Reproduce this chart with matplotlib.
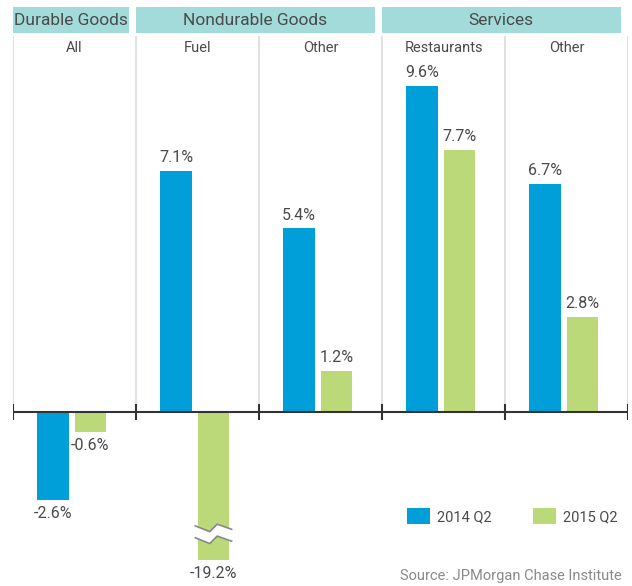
import numpy as np
import matplotlib.pyplot as plt
from matplotlib.patches import Rectangle, Polygon

# Données
groups = ["Durable Goods", "Nondurable Goods", "Services"]
group_span = [(0, 0), (1, 2), (3, 4)]
subcats = ["All", "Fuel", "Other", "Restaurants", "Other"]
q2_2014 = [-2.6, 7.1, 5.4, 9.6, 6.7]
q2_2015 = [-0.6, -19.2, 1.2, 7.7, 2.8]
series_names = ["2014 Q2", "2015 Q2"]
display_floor = -4.35  # barre coupée (axe interrompu)

blue = "#009fda"
green = "#bcd97a"
teal = "#a3dbdb"
txt = "#4a4a4a"
plt.rcParams['font.family'] = ['Roboto', 'DejaVu Sans']

W, H = 632, 586
fig = plt.figure(figsize=(W / 100, H / 100), dpi=100)
ax = fig.add_axes([13 / W, 0, 615 / W, (H - 36) / H])
# y : zéro à 412 px, 34 px par %
ppu = 34.0
ax.set_ylim(-(H - 412) / ppu, (412 - 36) / ppu)
ax.set_xlim(-0.5, 4.5)
ax.axis('off')

x = np.arange(len(subcats))
w = 0.255
off_b, off_g = -0.175, 0.13

v14 = np.array(q2_2014)
v15 = np.array(q2_2015)
ax.bar(x + off_b, v14, w, color=blue, zorder=2, label=series_names[0])
ax.bar(x + off_g, np.maximum(v15, display_floor), w, color=green, zorder=2,
       label=series_names[1])

# séparateurs verticaux
for xv in np.arange(-0.5, 5.0, 1.0):
    ax.plot([xv, xv], [0, 11.2], color="#dcdcdc", lw=1.2, zorder=1)
    ax.plot([xv, xv], [-0.22, 0.22], color="#333333", lw=1.5, zorder=3)
ax.axhline(0, color="#333333", lw=1.5, zorder=3)

# étiquettes
def lab(xc, v, shown):
    if v >= 0:
        ax.text(xc, shown + 0.17, f"{v:.1f}%", ha='center', va='bottom',
                fontsize=11.5, color=txt)
    else:
        ax.text(xc, shown - 0.17, f"{v:.1f}%", ha='center', va='top',
                fontsize=11.5, color=txt)

for i in range(len(subcats)):
    lab(x[i] + off_b, v14[i], v14[i])
    lab(x[i] + off_g, v15[i], max(v15[i], display_floor))

# coupure sur la barre de carburant
for i in range(len(subcats)):
    if v15[i] < display_floor:
        xl, xr = x[i] + off_g - w / 2 - 0.02, x[i] + off_g + w / 2 + 0.02
        xm1, xm2 = x[i] + off_g - 0.03, x[i] + off_g + 0.03
        top = [(xl, -3.35), (xm1, -3.52), (xm2, -3.30), (xr, -3.45)]
        bot = [(xl, -3.70), (xm1, -3.87), (xm2, -3.65), (xr, -3.80)]
        ax.add_patch(Polygon(top + bot[::-1], closed=True, fc='white', ec='none', zorder=4))
        for line in (top, bot):
            xs, ys = zip(*line)
            ax.plot(xs, ys, color="#888888", lw=1.2, zorder=5)

# sous-titres des colonnes
for i, s in enumerate(subcats):
    ax.text(x[i], 10.72, s, ha='center', va='center', fontsize=10.5, color=txt)

# bandeaux des groupes
for g, (a, b) in zip(groups, group_span):
    x0, x1 = a - 0.5 + 0.0, b + 0.5 - 0.06
    ax.add_patch(Rectangle((x0, 11.15), x1 - x0, 0.75, fc=teal, ec='none',
                           clip_on=False, zorder=2))
    ax.text((x0 + x1) / 2, 11.52, g, ha='center', va='center', fontsize=12.5,
            color=txt, clip_on=False)

ax.legend(loc='center right', bbox_to_anchor=(1.005, 0.127), ncol=2, frameon=False,
          fontsize=10.5, handlelength=1.6, handleheight=1.3, handletextpad=0.5,
          columnspacing=2.8, labelcolor=txt)

fig.text(622 / W, 1 - 576 / H, "Source: JPMorgan Chase Institute", ha='right',
         va='center', fontsize=10.5, color="#8a8a8a")

fig.savefig("out.png", dpi=100)
